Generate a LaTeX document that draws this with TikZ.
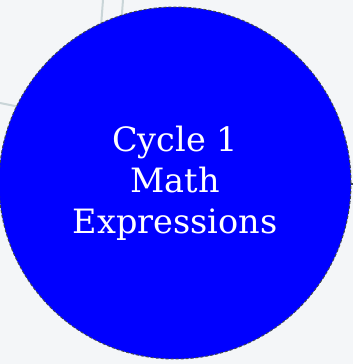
\documentclass[tikz,border=0pt]{standalone}
\usepackage{fontspec}
\setmainfont{DejaVu Serif}
\usetikzlibrary{backgrounds}
\definecolor{cyBlue}{HTML}{0000FF}
\definecolor{cyEdge}{HTML}{3E4650}
\definecolor{cyLink}{HTML}{C9D5D8}
\definecolor{cyPage}{HTML}{F4F6F8}
\tikzset{
  cy topic/.style={circle, fill=cyBlue, draw=cyEdge, dash pattern=on 3pt off 2pt, line width=1pt,
    minimum size=352pt, inner sep=0pt, text=white, align=center,
    font=\fontsize{33.5}{41}\selectfont},
  cy link/.style={draw=cyLink, line width=2pt},
  cy stub/.style={draw=cyEdge, line width=1.3pt},
}
\begin{document}
\begin{tikzpicture}[x=1pt, y=-1pt]
  \useasboundingbox (0,0) rectangle (353,364);
  % the topic itself
  \node[cy topic] (cycle) at (175,183) {Cycle 1\\Math\\Expressions};

  % links running off the page, under the topic
  \coordinate (up1) at (103,0);
  \coordinate (up1end) at (100,40);
  \coordinate (up2) at (123,0);
  \coordinate (up2end) at (120,40);
  \coordinate (left) at (0,103);
  \coordinate (leftend) at (30,109);
  \coordinate (right) at (353,184);
  \coordinate (rightend) at (330,184);
  \begin{scope}[on background layer]
    \fill[cyPage] (0,0) rectangle (353,364);
    \draw[cy link] (up1) -- (up1end);
    \draw[cy link] (up2) -- (up2end);
    \draw[cy link] (left) -- (leftend);
    \draw[cy stub] (right) -- (rightend);
  \end{scope}
\end{tikzpicture}
\end{document}
